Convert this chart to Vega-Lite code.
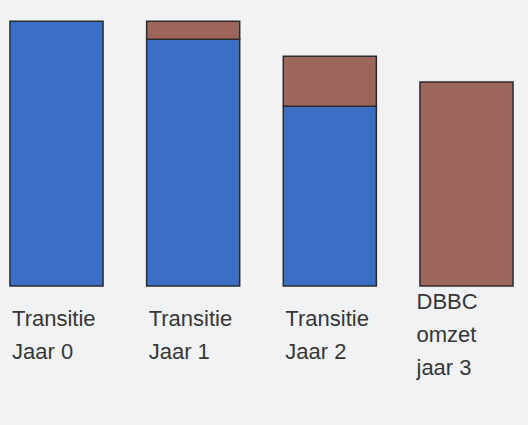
{
  "$schema": "https://vega.github.io/schema/vega-lite/v6.json",
  "width": 523,
  "height": 286,
  "padding": {"left": 0, "top": 0, "right": 5, "bottom": 47},
  "background": "#f1f2f4",
  "config": {"view": {"stroke": null}},
  "data": {
    "values": [
      {"groep": "Transitie|Jaar 0", "soort": "Transitie", "waarde": 100},
      {"groep": "Transitie|Jaar 1", "soort": "Transitie", "waarde": 93.2},
      {"groep": "Transitie|Jaar 1", "soort": "DBBC", "waarde": 6.8},
      {"groep": "Transitie|Jaar 2", "soort": "Transitie", "waarde": 67.9},
      {"groep": "Transitie|Jaar 2", "soort": "DBBC", "waarde": 18.9},
      {"groep": "DBBC|omzet|jaar 3", "soort": "DBBC", "waarde": 77}
    ]
  },
  "mark": {"type": "bar", "stroke": "#2b2b2b", "strokeWidth": 1.5},
  "encoding": {
    "x": {
      "field": "groep",
      "type": "nominal",
      "sort": null,
      "scale": {"paddingInner": 0.319, "paddingOuter": 0.073},
      "axis": {
        "title": null,
        "domain": false,
        "ticks": false,
        "labelAngle": 0,
        "labelExpr": "split(datum.value, '|')",
        "labelAlign": "left",
        "labelBaseline": "alphabetic",
        "labelOffset": {"condition": {"test": "datum.value === 'DBBC|omzet|jaar 3'", "value": -50}, "value": -44.5},
        "labelPadding": {"condition": {"test": "datum.value === 'DBBC|omzet|jaar 3'", "value": 22}, "value": 39},
        "labelFont": "Liberation Sans",
        "labelFontSize": 22,
        "labelColor": "#363636",
        "labelLineHeight": 33,
        "labelLimit": 0,
        "labelOverlap": false
      }
    },
    "y": {
      "field": "waarde",
      "type": "quantitative",
      "stack": "zero",
      "scale": {"domain": [0, 108]},
      "axis": null
    },
    "color": {
      "field": "soort",
      "type": "nominal",
      "scale": {"domain": ["Transitie", "DBBC"], "range": ["#3b6fc6", "#9c665a"]},
      "legend": null
    },
    "order": {"field": "soort", "sort": "descending"}
  }
}
